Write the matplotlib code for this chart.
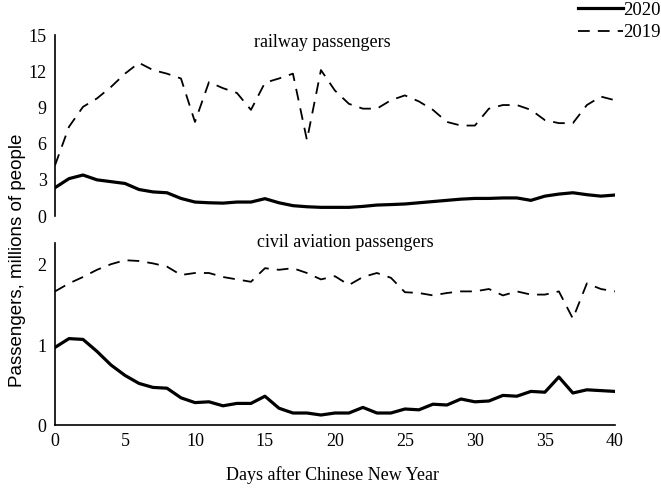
import matplotlib.pyplot as plt
import numpy as np

plt.rcParams['font.family'] = ['Liberation Serif', 'DejaVu Serif']

days = np.arange(0, 41)

rail_2020 = [2.35, 3.1, 3.4, 3.0, 2.85, 2.7, 2.2, 2.0, 1.93, 1.46, 1.16,
             1.1, 1.07, 1.16, 1.16, 1.44, 1.1, 0.86, 0.77, 0.72, 0.72,
             0.72, 0.8, 0.91, 0.95, 1.0, 1.1, 1.2, 1.3, 1.4, 1.46,
             1.46, 1.5, 1.5, 1.3, 1.65, 1.82, 1.93, 1.77, 1.65, 1.74]
rail_2019 = [4.2, 7.4, 9.05, 9.75, 10.7, 11.8, 12.7, 12.1, 11.8, 11.4, 7.8,
             11.1, 10.6, 10.2, 8.8, 11.05, 11.4, 11.8, 6.3, 12.1, 10.4,
             9.3, 8.9, 8.9, 9.6, 10.0, 9.5, 8.8, 7.8, 7.5, 7.5,
             8.9, 9.2, 9.2, 8.8, 7.95, 7.7, 7.7, 9.2, 9.9, 9.6]

air_2020 = [0.97, 1.08, 1.07, 0.92, 0.75, 0.62, 0.52, 0.47, 0.46, 0.34, 0.28,
            0.29, 0.24, 0.27, 0.27, 0.36, 0.21, 0.15, 0.15, 0.125, 0.15,
            0.15, 0.22, 0.15, 0.15, 0.2, 0.19, 0.26, 0.25, 0.325, 0.29,
            0.3, 0.37, 0.36, 0.42, 0.41, 0.6, 0.4, 0.44, 0.43, 0.42]
air_2019 = [1.67, 1.77, 1.85, 1.94, 2.01, 2.06, 2.05, 2.02, 1.98, 1.875, 1.9,
            1.9, 1.85, 1.82, 1.79, 1.96, 1.94, 1.96, 1.9, 1.82, 1.86,
            1.75, 1.85, 1.9, 1.84, 1.66, 1.65, 1.62, 1.65, 1.67, 1.67,
            1.7, 1.62, 1.67, 1.63, 1.63, 1.67, 1.33, 1.77, 1.7, 1.67]

fig = plt.figure(figsize=(6.61, 4.91), dpi=100)
ax1 = fig.add_axes([0.0832, 0.560, 0.847, 0.3686])
ax2 = fig.add_axes([0.0832, 0.1344, 0.847, 0.3707])

solid = dict(color='black', lw=2.3, solid_joinstyle='round')
dashed = dict(color='black', lw=1.3, dashes=(6.5, 4.5))

l1, = ax1.plot(days, rail_2020, label='2020', **solid)
l2, = ax1.plot(days, rail_2019, label='2019', **dashed)
ax2.plot(days, air_2020, **solid)
ax2.plot(days, air_2019, **dashed)

ax1.set_xlim(0, 40)
ax1.set_ylim(0, 15)
ax1.set_yticks([0, 3, 6, 9, 12, 15])
ax1.set_xticks([])
ax2.set_xlim(0, 40)
ax2.set_ylim(0, 2.275)
ax2.set_yticks([0, 1, 2])
ax2.set_xticks(range(0, 41, 5))

for ax in (ax1, ax2):
    for s in ['top', 'right']:
        ax.spines[s].set_visible(False)
    ax.spines['left'].set_linewidth(1.2)
    ax.spines['bottom'].set_linewidth(1.2)
    ax.tick_params(length=0, labelsize=13, pad=6)
ax1.spines['bottom'].set_visible(False)

ax1.text(0.477, 0.961, 'railway passengers', transform=ax1.transAxes,
         ha='center', va='center', fontsize=13)
ax2.text(0.518, 1.005, 'civil aviation passengers', transform=ax2.transAxes,
         ha='center', va='center', fontsize=13)

fig.text(0.026, 0.47, 'Passengers, millions of people', rotation=90,
         ha='center', va='center', fontsize=13.5,
         family=['Liberation Sans', 'DejaVu Sans'])
fig.text(0.503, 0.033, 'Days after Chinese New Year', ha='center',
         va='center', fontsize=13)

fig.legend(handles=[l1, l2], loc='upper right', bbox_to_anchor=(1.017, 1.02),
           frameon=False, fontsize=13.5, handlelength=2.4, handletextpad=0.05,
           labelspacing=0.3, borderaxespad=0.2)

fig.savefig('out.png', dpi=100)
